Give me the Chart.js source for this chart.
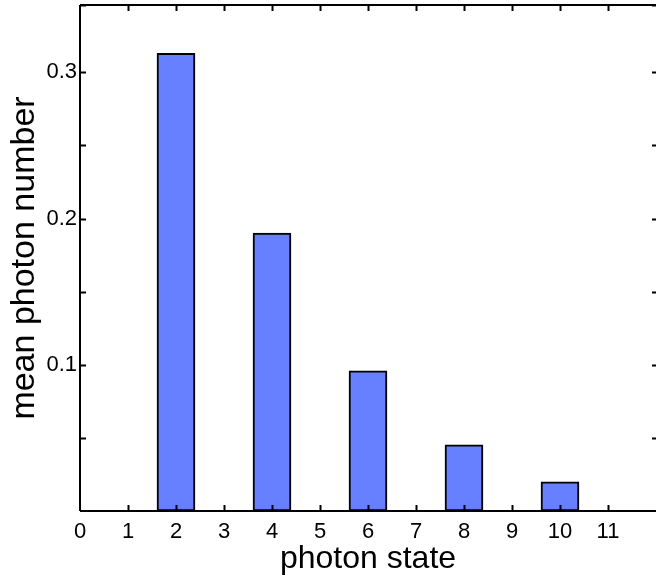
<!DOCTYPE html>
<html>
<head>
<meta charset="utf-8">
<script src="https://cdn.jsdelivr.net/npm/chart.js@4.4.1/dist/chart.umd.min.js"></script>
<style>
  html, body { margin: 0; padding: 0; background: #fff; }
  #c { display: block; }
</style>
</head>
<body>
<canvas id="c" width="656" height="575"></canvas>
<script>
// photon state vs mean photon number
const states = [2, 4, 6, 8, 10];
const meanPhoton = [0.313, 0.190, 0.0959, 0.0452, 0.0199];
const xTicks = [0, 1, 2, 3, 4, 5, 6, 7, 8, 9, 10, 11];
const yLabelled = [0.1, 0.2, 0.3];

const FONT = "'Liberation Sans', Arial, Helvetica, sans-serif";

// MATLAB-style box with inward ticks; right spine sits just past the canvas edge
const boxTicks = {
  id: 'boxTicks',
  afterDraw(chart) {
    const { ctx, chartArea: a, scales: { x, y } } = chart;
    const len = 6;
    const right = a.right + 2;
    ctx.save();
    ctx.strokeStyle = '#000';
    ctx.lineWidth = 2;
    ctx.beginPath();
    ctx.moveTo(a.left, a.top); ctx.lineTo(right, a.top);
    ctx.moveTo(a.left, a.top); ctx.lineTo(a.left, a.bottom);
    ctx.moveTo(a.left, a.bottom); ctx.lineTo(right, a.bottom);
    ctx.moveTo(right, a.top); ctx.lineTo(right, a.bottom);
    x.ticks.forEach(t => {
      const px = Math.round(x.getPixelForValue(t.value)) + 0.5;
      if (t.value <= x.min || t.value >= x.max) return;
      ctx.moveTo(px, a.bottom); ctx.lineTo(px, a.bottom - len);
      ctx.moveTo(px, a.top); ctx.lineTo(px, a.top + len);
    });
    y.ticks.forEach(t => {
      const py = Math.round(y.getPixelForValue(t.value)) + 0.5;
      if (t.value <= y.min) return;
      ctx.moveTo(a.left, py); ctx.lineTo(a.left + len, py);
      ctx.moveTo(right, py); ctx.lineTo(right - len, py);
    });
    ctx.stroke();
    ctx.restore();
  }
};

new Chart(document.getElementById('c'), {
  type: 'bar',
  data: {
    datasets: [{
      data: states.map((s, i) => ({ x: s, y: meanPhoton[i] })),
      backgroundColor: '#6680ff',
      borderColor: '#000',
      borderWidth: 2,
      borderSkipped: false,
      barThickness: 38,
    }],
  },
  options: {
    responsive: false,
    animation: false,
    layout: { padding: { top: 5, right: 0, left: 0, bottom: 0 } },
    plugins: { legend: { display: false }, tooltip: { enabled: false } },
    scales: {
      x: {
        type: 'linear', min: 0, max: 12, offset: false,
        grid: { display: false, drawTicks: false },
        border: { display: false },
        afterBuildTicks: s => { s.ticks = xTicks.map(v => ({ value: v })); },
        afterFit: s => { s.height = 64; s.paddingLeft = 0; s.paddingRight = 0; },
        ticks: {
          color: '#000', padding: 8, maxRotation: 0, autoSkip: false,
          font: { family: FONT, size: 22 },
          callback: v => String(v),
        },
        title: {
          display: true, text: 'photon state', color: '#000',
          font: { family: FONT, size: 32 }, padding: { top: 0, bottom: -3 },
        },
      },
      y: {
        min: 0, max: 0.346,
        grid: { display: false, drawTicks: false },
        border: { display: false },
        afterFit: s => { s.width = 80; s.paddingTop = 0; s.paddingBottom = 0; },
        ticks: {
          color: '#000', padding: 3, stepSize: 0.05,
          font: { family: FONT, size: 22 },
          callback: v => {
            const hit = yLabelled.find(l => Math.abs(l - v) < 1e-6);
            return hit ? String(hit) : '';
          },
        },
        title: {
          display: true, text: 'mean photon number', color: '#000',
          font: { family: FONT, size: 34 }, padding: { top: 4, bottom: 0 },
        },
      },
    },
  },
  plugins: [boxTicks],
});
</script>
</body>
</html>
